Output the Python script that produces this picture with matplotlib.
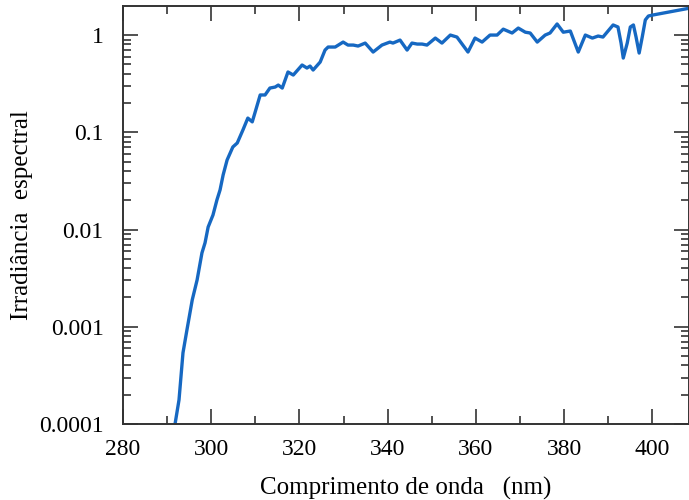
import matplotlib
matplotlib.use("Agg")
import matplotlib.pyplot as plt
from matplotlib.ticker import FixedLocator, LogLocator, FuncFormatter, MultipleLocator

# spectral irradiance (relative) vs wavelength
wavelength = [291.8, 292.7, 293.6, 294.5, 295.7, 296.8, 297.9, 298.6, 299.3, 300.4,
              301.3, 302.0, 302.7, 303.6, 304.9, 305.9, 307.2, 308.3, 309.3, 309.9,
              311.1, 312.2, 313.3, 314.5, 315.2, 316.1, 317.4, 318.6, 320.6, 321.7,
              322.4, 323.1, 324.7, 325.8, 326.5, 328.1, 329.9, 331.0, 332.2, 333.3,
              334.9, 336.7, 338.7, 340.5, 341.2, 342.8, 344.4, 345.5, 346.7, 347.8,
              348.9, 350.8, 352.3, 354.2, 355.7, 358.2, 359.8, 361.4, 363.2, 364.8,
              366.2, 368.2, 369.6, 371.2, 372.3, 373.9, 375.7, 376.8, 378.4, 379.8,
              381.4, 383.2, 384.8, 386.4, 387.7, 388.8, 391.1, 392.2, 392.9, 393.4,
              394.3, 395.0, 395.7, 396.3, 397.0, 397.7, 398.4, 399.1, 400.2, 408.4]
irradiance = [1.0e-4, 1.77e-4, 5.4e-4, 9.3e-4, 1.89e-3, 3.03e-3, 5.75e-3, 7.3e-3, 1.06e-2, 1.41e-2,
              2.02e-2, 2.55e-2, 3.64e-2, 5.19e-2, 7.06e-2, 7.76e-2, 0.106, 0.140, 0.128, 0.158,
              0.242, 0.242, 0.285, 0.292, 0.306, 0.285, 0.417, 0.388, 0.492, 0.458,
              0.480, 0.437, 0.528, 0.701, 0.753, 0.753, 0.847, 0.789, 0.789, 0.771,
              0.827, 0.669, 0.789, 0.847, 0.827, 0.888, 0.701, 0.827, 0.808, 0.808,
              0.789, 0.931, 0.827, 1.0, 0.954, 0.669, 0.931, 0.847, 1.0, 1.0,
              1.15, 1.05, 1.18, 1.07, 1.05, 0.847, 1.0, 1.05, 1.30, 1.07,
              1.10, 0.669, 1.0, 0.931, 0.977, 0.954, 1.27, 1.21, 0.827, 0.580,
              0.827, 1.21, 1.27, 0.954, 0.653, 0.954, 1.43, 1.57, 1.61, 1.89]

ytick_vals = [1e-4, 1e-3, 1e-2, 1e-1, 1]
ytick_text = ["0.0001", "0.001", "0.01", "0.1", "1"]

plt.rcParams['font.family'] = ['Liberation Serif', 'DejaVu Serif']

fig = plt.figure(figsize=(6.89, 5), dpi=100)
ax = fig.add_axes([0.1785, 0.152, 0.8215, 0.836])

ax.plot(wavelength, irradiance, color="#1668c2", lw=2.4,
        solid_joinstyle="round", solid_capstyle="round")

ax.set_yscale("log")
ax.set_xlim(280, 408.3)
ax.set_ylim(1e-4, 1.99)

ax.xaxis.set_major_locator(MultipleLocator(20))
ax.xaxis.set_minor_locator(MultipleLocator(10))
ax.yaxis.set_major_locator(FixedLocator(ytick_vals))
ax.yaxis.set_minor_locator(LogLocator(base=10, subs=range(2, 10)))
labels = dict(zip(ytick_vals, ytick_text))
ax.yaxis.set_major_formatter(FuncFormatter(lambda v, p: labels.get(v, "")))

ax.tick_params(which="both", direction="in", top=True, right=True, color="#333333",
               width=1.2, labelsize=17)
ax.tick_params(which="major", length=11)
ax.tick_params(which="minor", length=6)
ax.tick_params(axis="y", which="major", pad=14)
ax.tick_params(axis="x", which="major", pad=11)

for s in ax.spines.values():
    s.set_color("#333333")
    s.set_linewidth(1.4)

ax.set_xlabel("Comprimento de onda   (nm)", fontsize=18, labelpad=12)
ax.set_ylabel("Irradiância  espectral", fontsize=18, labelpad=4)

fig.savefig("out.png", dpi=100)
